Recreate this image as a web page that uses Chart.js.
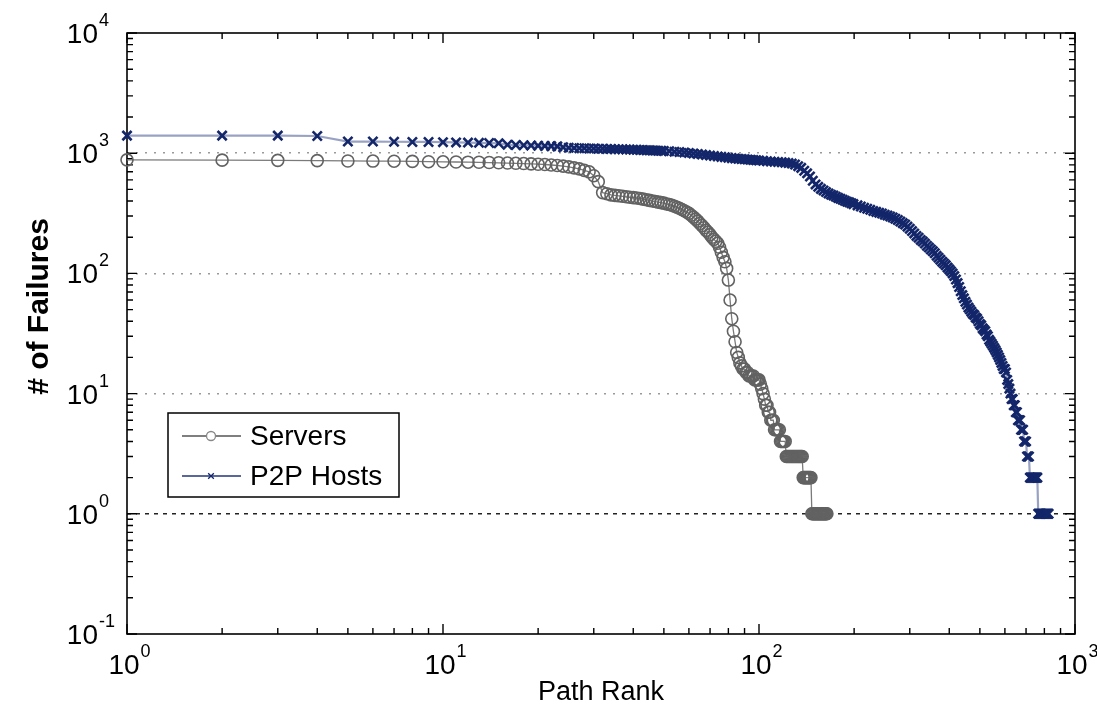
<!DOCTYPE html>
<html>
<head>
<meta charset="utf-8">
<script src="https://cdn.jsdelivr.net/npm/chart.js@4.4.0/dist/chart.umd.min.js"></script>
<style>
  body { margin: 0; background: #fff; }
  #wrap { width: 1097px; height: 713px; }
</style>
</head>
<body>
<div id="wrap"><canvas id="failChart" width="1097" height="713"></canvas></div>
<script>
// failures per path, sorted by rank (rank = position in list)
var serverFailures = [
  880, 875, 872, 868, 862, 860, 858, 855, 850, 848,
  845, 842, 840, 836, 832, 828, 824, 820, 815, 810,
  805, 798, 790, 780, 770, 755, 740, 720, 700, 650,
  580, 470, 460, 450, 446, 442, 438, 434, 430, 427,
  424, 420, 415, 410, 405, 400, 396, 392, 388, 384,
  378, 374, 369, 362, 355, 348, 340, 332, 324, 316,
  305, 294, 283, 272, 260, 250, 240, 228, 220, 210,
  200, 192, 185, 178, 165, 150, 136, 125, 110, 88,
  60, 42, 33, 27, 22, 20, 18, 17, 16, 16,
  15, 15, 14, 14, 14, 14, 13, 13, 13, 13,
  12, 11, 10, 9, 8, 8, 7, 7, 6, 6,
  6, 5, 5, 5, 5, 5, 4, 4, 4, 4,
  4, 3, 3, 3, 3, 3, 3, 3, 3, 3,
  3, 3, 3, 3, 3, 3, 3, 2, 2, 2,
  2, 2, 2, 2, 2, 2, 1, 1, 1, 1,
  1, 1, 1, 1, 1, 1, 1, 1, 1, 1,
  1, 1, 1, 1
];

// P2P paths: rank and failure count
var p2pRanks = [
  1, 2, 3, 4, 5, 6, 7, 8, 9, 10, 11, 12, 13, 14, 15, 16, 17, 18, 19, 20,
  21, 22, 23, 24, 25, 26, 27, 28, 29, 30, 31, 32, 33, 34, 35, 36, 37, 38, 39, 40,
  41, 42, 43, 44, 45, 46, 47, 48, 49, 50,
  52, 54, 56, 58, 60, 62, 64, 66, 68, 70, 72, 74, 76, 78, 80, 82, 84, 86, 88, 90,
  92, 94, 96, 98, 100,
  103, 106, 109, 112, 115, 118, 121, 124, 127, 130, 133, 136, 139, 142, 145, 148,
  151, 154, 157, 160, 163, 166, 169, 172, 175, 178, 181, 184, 187, 190, 193, 196, 199,
  205, 210, 215, 220, 225, 230, 235, 240, 245, 250, 255, 260, 265, 270, 275, 280,
  285, 290, 295, 300, 305, 310, 315, 320, 325, 330, 335, 340, 345, 350, 355, 360,
  365, 370, 375, 380, 385, 390, 395, 400,
  405, 410, 415, 420, 425, 430, 435, 440, 445, 450, 455, 460, 465, 470, 475, 480,
  485, 490, 495, 500, 505, 510, 515, 520, 525, 530, 535, 540, 545, 550, 555, 560,
  565, 570, 575, 580, 585, 590, 595, 600, 605, 610, 615, 620, 625, 630, 635, 640,
  645, 650, 655, 660, 665, 670, 675, 680, 685, 690, 695, 700, 705, 710, 715, 720,
  725, 730, 735, 740, 745, 750, 755, 760, 765, 770, 775, 780, 785, 790, 795, 800,
  805, 810, 815, 820, 825
];
var p2pFailures = [
  1400, 1400, 1400, 1390, 1250, 1250, 1245, 1240, 1240, 1235, 1230, 1225, 1220, 1215, 1210, 1175, 1170, 1165, 1160, 1155,
  1150, 1145, 1140, 1120, 1110, 1105, 1100, 1100, 1095, 1095, 1090, 1090, 1085, 1085, 1080, 1080, 1078, 1075, 1072, 1070,
  1068, 1065, 1062, 1060, 1058, 1055, 1052, 1050, 1048, 1045,
  1040, 1030, 1022, 1015, 1005, 995, 985, 975, 965, 955, 948, 940, 932, 925, 915, 910, 905, 900, 895, 890,
  885, 882, 878, 874, 870,
  865, 858, 852, 848, 845, 840, 835, 828, 820, 805, 780, 755, 715, 680, 640, 590,
  550, 525, 505, 490, 475, 462, 452, 445, 435, 425, 418, 410, 402, 395, 390, 383, 377,
  368, 360, 352, 345, 338, 330, 325, 320, 315, 308, 303, 298, 292, 285, 278, 270,
  262, 255, 245, 235, 225, 215, 205, 198, 190, 184, 177, 170, 164, 158, 153, 147,
  140, 135, 130, 125, 121, 117, 112, 108,
  104, 100, 95, 89, 83, 77, 71, 66, 62, 58, 55, 52, 50, 48, 46, 45,
  43, 42, 40, 38, 37, 35, 34, 33, 31, 30, 28, 27, 26, 25, 24, 23,
  22, 21, 20, 19, 18, 17, 16, 16, 15, 13, 12, 11, 10, 9, 9, 8,
  8, 7, 7, 6, 6, 6, 5, 5, 5, 4, 4, 4, 3, 3, 3, 2,
  2, 2, 2, 2, 2, 2, 2, 2, 1, 1, 1, 1, 1, 1, 1, 1,
  1, 1, 1, 1, 1
];

var xDecades = [0, 1, 2, 3];
var yDecades = [-1, 0, 1, 2, 3, 4];
var seriesNames = ["Servers", "P2P Hosts"];

var serverColor = "#626262";
var p2pColor = "#14266a";
var labelFont = '"Liberation Sans", Arial, sans-serif';

function drawPower(ctx, exp, x, baseY, align) {
  // draws 10 with a raised exponent; x is right edge of "10" or label centre
  ctx.font = "28px " + labelFont;
  const wBase = ctx.measureText("10").width;
  ctx.font = "18px " + labelFont;
  const wExp = ctx.measureText(String(exp)).width;
  let left = align === "center" ? x - (wBase + wExp) / 2 : x - wBase;
  ctx.fillStyle = "#000";
  ctx.textAlign = "left";
  ctx.textBaseline = "alphabetic";
  ctx.font = "28px " + labelFont;
  ctx.fillText("10", left, baseY);
  ctx.font = "18px " + labelFont;
  ctx.fillText(String(exp), left + wBase + 1, baseY - 17);
}

const axesBox = {
  id: "axesBox",
  beforeDatasetsDraw(chart) {
    const { ctx, chartArea: a, scales } = chart;
    const x = scales.x, y = scales.y;
    ctx.save();
    ctx.strokeStyle = "#000";
    ctx.lineWidth = 1.4;
    ctx.beginPath();
    // inward ticks along bottom and top
    xDecades.forEach(function (e) {
      for (let m = 1; m <= 9; m++) {
        const v = m * Math.pow(10, e);
        if (v > 1000) break;
        const px = x.getPixelForValue(v);
        const len = m === 1 ? 10 : 6;
        ctx.moveTo(px, a.bottom); ctx.lineTo(px, a.bottom - len);
        ctx.moveTo(px, a.top); ctx.lineTo(px, a.top + len);
      }
    });
    // inward ticks along left and right
    yDecades.forEach(function (e) {
      for (let m = 1; m <= 9; m++) {
        const v = m * Math.pow(10, e);
        if (v > 10000) break;
        const py = y.getPixelForValue(v);
        const len = m === 1 ? 10 : 6;
        ctx.moveTo(a.left, py); ctx.lineTo(a.left + len, py);
        ctx.moveTo(a.right, py); ctx.lineTo(a.right - len, py);
      }
    });
    ctx.stroke();
    ctx.lineWidth = 1.6;
    ctx.strokeRect(a.left, a.top, a.right - a.left, a.bottom - a.top);
    ctx.restore();
  },
  afterDraw(chart) {
    const { ctx, chartArea: a, scales } = chart;
    const x = scales.x, y = scales.y;
    ctx.save();
    yDecades.forEach(function (e) {
      drawPower(ctx, e, a.left - 29, y.getPixelForValue(Math.pow(10, e)) + 10, "right");
    });
    xDecades.forEach(function (e) {
      drawPower(ctx, e, x.getPixelForValue(Math.pow(10, e)) + 2, a.bottom + 40, "center");
    });

    // axis titles
    ctx.fillStyle = "#000";
    ctx.textAlign = "center";
    ctx.textBaseline = "alphabetic";
    ctx.font = "27px " + labelFont;
    ctx.fillText("Path Rank", (a.left + a.right) / 2, 700);
    ctx.save();
    ctx.translate(48, (a.top + a.bottom) / 2 - 27);
    ctx.rotate(-Math.PI / 2);
    ctx.font = "bold 30px " + labelFont;
    ctx.fillText("# of Failures", 0, 0);
    ctx.restore();

    // legend box
    const bx = 168, by = 413, bw = 231, bh = 84;
    ctx.fillStyle = "#fff";
    ctx.fillRect(bx, by, bw, bh);
    ctx.strokeStyle = "#000";
    ctx.lineWidth = 1.5;
    ctx.strokeRect(bx, by, bw, bh);
    const rows = [by + 23, by + 63];
    chart.data.datasets.forEach(function (ds, i) {
      const ly = rows[i];
      ctx.strokeStyle = i === 0 ? "#555" : "#23347a";
      ctx.lineWidth = 1.3;
      ctx.beginPath();
      ctx.moveTo(182, ly); ctx.lineTo(241, ly);
      ctx.stroke();
      ctx.strokeStyle = i === 0 ? "#888" : p2pColor;
      Chart.helpers.drawPoint(ctx, {
        pointStyle: ds.pointStyle,
        radius: i === 0 ? 4.5 : 4,
        borderWidth: 1.6,
        rotation: 0
      }, 211, ly);
      ctx.fillStyle = "#000";
      ctx.textAlign = "left";
      ctx.textBaseline = "middle";
      ctx.font = "28px " + labelFont;
      ctx.fillText(ds.label, 250, ly + 1);
    });
    ctx.restore();
  }
};

document.addEventListener("DOMContentLoaded", function () {
  const ctx = document.getElementById("failChart").getContext("2d");

  const serverPoints = serverFailures.map(function (v, i) {
    return { x: i + 1, y: v };
  });
  const p2pPoints = p2pRanks.map(function (r, i) {
    return { x: r, y: p2pFailures[i] };
  });

  new Chart(ctx, {
    type: "scatter",
    data: {
      datasets: [
        {
          label: seriesNames[0],
          data: serverPoints,
          showLine: true,
          borderColor: "#7a7a7a",
          borderWidth: 1.3,
          pointStyle: "circle",
          pointRadius: 6,
          pointBorderColor: serverColor,
          pointBorderWidth: 1.6,
          pointBackgroundColor: "rgba(0,0,0,0)",
          clip: false
        },
        {
          label: seriesNames[1],
          data: p2pPoints,
          showLine: true,
          borderColor: "rgba(70,85,145,0.55)",
          borderWidth: 2.2,
          pointStyle: "crossRot",
          pointRadius: 6.5,
          pointBorderColor: p2pColor,
          pointBorderWidth: 2.6,
          clip: false
        }
      ]
    },
    options: {
      responsive: false,
      animation: false,
      events: [],
      layout: { padding: { left: 127, right: 22, top: 33, bottom: 79 } },
      plugins: {
        legend: { display: false },
        tooltip: { enabled: false }
      },
      scales: {
        x: {
          type: "logarithmic",
          min: 1,
          max: 1000,
          ticks: { display: false },
          grid: { display: false, drawTicks: false },
          border: { display: false }
        },
        y: {
          type: "logarithmic",
          min: 0.1,
          max: 10000,
          afterBuildTicks: function (scale) {
            scale.ticks = yDecades.map(function (e) {
              return { value: Math.pow(10, e) };
            });
          },
          ticks: { display: false },
          grid: {
            drawTicks: false,
            lineWidth: 1.6,
            color: function (c) {
              if (!c.tick) return "rgba(0,0,0,0)";
              const v = c.tick.value;
              if (v <= 0.1 || v >= 10000) return "rgba(0,0,0,0)";
              return v === 1 ? "#222" : "#9a9a9a";
            }
          },
          border: {
            display: false,
            dash: function (c) {
              return c.tick && c.tick.value === 1 ? [4, 5] : [2, 7];
            }
          }
        }
      }
    },
    plugins: [axesBox]
  });
});
</script>
</body>
</html>
